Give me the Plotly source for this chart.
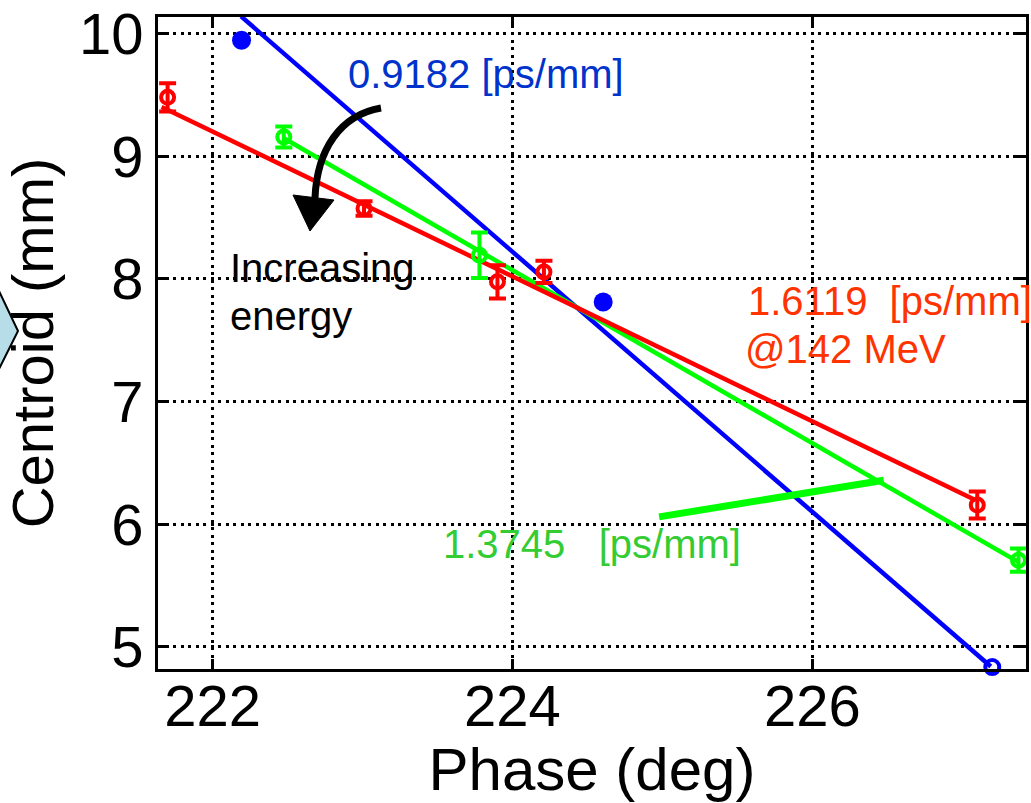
import plotly.graph_objects as go

# ---------------- data ----------------
red_x = [221.70, 223.01, 223.90, 224.21, 227.10]
red_y = [9.48, 8.574, 7.976, 8.057, 6.156]
red_err = [0.115, 0.06, 0.136, 0.09, 0.11]

green_x = [222.475, 223.78, 227.375]
green_y = [9.157, 8.193, 5.707]
green_err = [0.085, 0.186, 0.095]

blue_x = [222.193, 224.605, 227.20]
blue_y = [9.945, 7.812, 4.836]
blue_symbols = ["circle", "circle", "circle-open"]

# fitted lines (end points)
red_fit_x = [221.66, 227.09]
red_fit_y = [9.402, 6.196]
green_fit_x = [222.475, 227.375]
green_fit_y = [9.147, 5.691]
blue_fit_x = [222.19, 227.19]
blue_fit_y = [10.14, 4.84]

# green pointer for the 1.3745 label
green_ptr_x = [224.978, 226.476]
green_ptr_y = [6.06, 6.359]

x_ticks = [222, 224, 226]
y_ticks = [5, 6, 7, 8, 9, 10]

W, H = 1031, 803
ML, MR, MT, MB = 158, 5, 17, 134
PW, PH = W - ML - MR, H - MT - MB

def px(x):
    return (x - ML) / PW

def py(y):
    return (H - MB - y) / PH

FONT = "Liberation Sans, Arial, sans-serif"
BLUE, RED, GREEN = "#0000FF", "#FF0000", "#00FF00"
LW = 4.5

fig = go.Figure()

# fit lines
fig.add_trace(go.Scatter(x=blue_fit_x, y=blue_fit_y, mode="lines",
                         line=dict(color=BLUE, width=LW), showlegend=False, hoverinfo="skip"))
fig.add_trace(go.Scatter(x=green_fit_x, y=green_fit_y, mode="lines",
                         line=dict(color=GREEN, width=LW), showlegend=False, hoverinfo="skip"))
fig.add_trace(go.Scatter(x=red_fit_x, y=red_fit_y, mode="lines",
                         line=dict(color=RED, width=LW), showlegend=False, hoverinfo="skip"))

# data points
fig.add_trace(go.Scatter(x=green_x, y=green_y, mode="markers",
                         error_y=dict(type="data", array=green_err, color=GREEN, thickness=4, width=8.5),
                         marker=dict(symbol="circle-open", size=13, color=GREEN, opacity=1,
                                     line=dict(width=4, color=GREEN)),
                         showlegend=False, cliponaxis=False))
fig.add_trace(go.Scatter(x=red_x, y=red_y, mode="markers",
                         error_y=dict(type="data", array=red_err, color=RED, thickness=4, width=8.5),
                         marker=dict(symbol="circle-open", size=13, color=RED, opacity=1,
                                     line=dict(width=4, color=RED)),
                         showlegend=False, cliponaxis=False))
fig.add_trace(go.Scatter(x=blue_x, y=blue_y, mode="markers",
                         marker=dict(symbol=blue_symbols, size=[19, 19, 14], color=BLUE, opacity=1,
                                     line=dict(width=[0, 0, 4], color=BLUE)),
                         showlegend=False, cliponaxis=False))

shapes = []
# green pointer line
shapes.append(dict(type="line", xref="x", yref="y",
                   x0=green_ptr_x[0], y0=green_ptr_y[0], x1=green_ptr_x[1], y1=green_ptr_y[1],
                   line=dict(color=GREEN, width=7)))
# curved black arrow (decoration)
shapes.append(dict(type="path", xref="paper", yref="paper",
                   path=(f"M {px(381)},{py(108)} C {px(340)},{py(115)} {px(317)},{py(150)} {px(315)},{py(198)}"),
                   line=dict(color="black", width=7)))
shapes.append(dict(type="path", xref="paper", yref="paper",
                   path=(f"M {px(293)},{py(195)} L {px(334)},{py(200)} L {px(310)},{py(231)} Z"),
                   fillcolor="black", line=dict(color="black", width=1)))
# light blue chevron at left edge (decoration)
shapes.append(dict(type="path", xref="paper", yref="paper",
                   path=(f"M {px(-12)},{py(268)} L {px(18)},{py(331)} L {px(-12)},{py(391)} Z"),
                   fillcolor="#B7DEE8", line=dict(color="black", width=2), layer="above"))

NB = "\u00a0"
annotations = [
    dict(text="0.9182 [ps/mm]", x=px(346), y=py(74), color="#0033CC"),
    dict(text="Increasing", x=px(228), y=py(268), color="black"),
    dict(text="energy", x=px(228), y=py(316), color="black"),
    dict(text="1.6119" + NB * 2 + "[ps/mm]", x=px(746), y=py(301), color="#FF3300"),
    dict(text="@142 MeV", x=px(743), y=py(349), color="#FF3300"),
    dict(text="1.3745" + NB * 3 + "[ps/mm]", x=px(441), y=py(544), color="#33CC33"),
]
ann = []
for a in annotations:
    ann.append(dict(text=a["text"], x=a["x"], y=a["y"], xref="paper", yref="paper",
                    xanchor="left", yanchor="middle", showarrow=False,
                    font=dict(family=FONT, size=40, color=a["color"])))

axis_common = dict(
    showline=True, linecolor="black", linewidth=3, mirror="ticks",
    ticks="inside", ticklen=10, tickwidth=3, tickcolor="black",
    showgrid=True, gridcolor="black", gridwidth=2.5, griddash="3px,4.5px",
    zeroline=False,
    tickfont=dict(family=FONT, size=58, color="black"),
)

fig.update_layout(
    width=W, height=H,
    margin=dict(l=ML, r=MR, t=MT, b=MB),
    paper_bgcolor="white", plot_bgcolor="white",
    showlegend=False,
    shapes=shapes,
    annotations=ann,
    xaxis=dict(range=[221.636, 227.425], tickvals=x_ticks, ticktext=[str(v) for v in x_ticks],
               ticklabelstandoff=-16,
               title=dict(text="Phase (deg)", font=dict(family=FONT, size=60, color="black"), standoff=0),
               automargin=False, **axis_common),
    yaxis=dict(range=[4.82, 10.135], tickvals=y_ticks, ticktext=[str(v) for v in y_ticks],
               title=dict(text="Centroid (mm)", font=dict(family=FONT, size=58, color="black"), standoff=10),
               automargin=False, **axis_common),
)

fig.write_html("out.html")
